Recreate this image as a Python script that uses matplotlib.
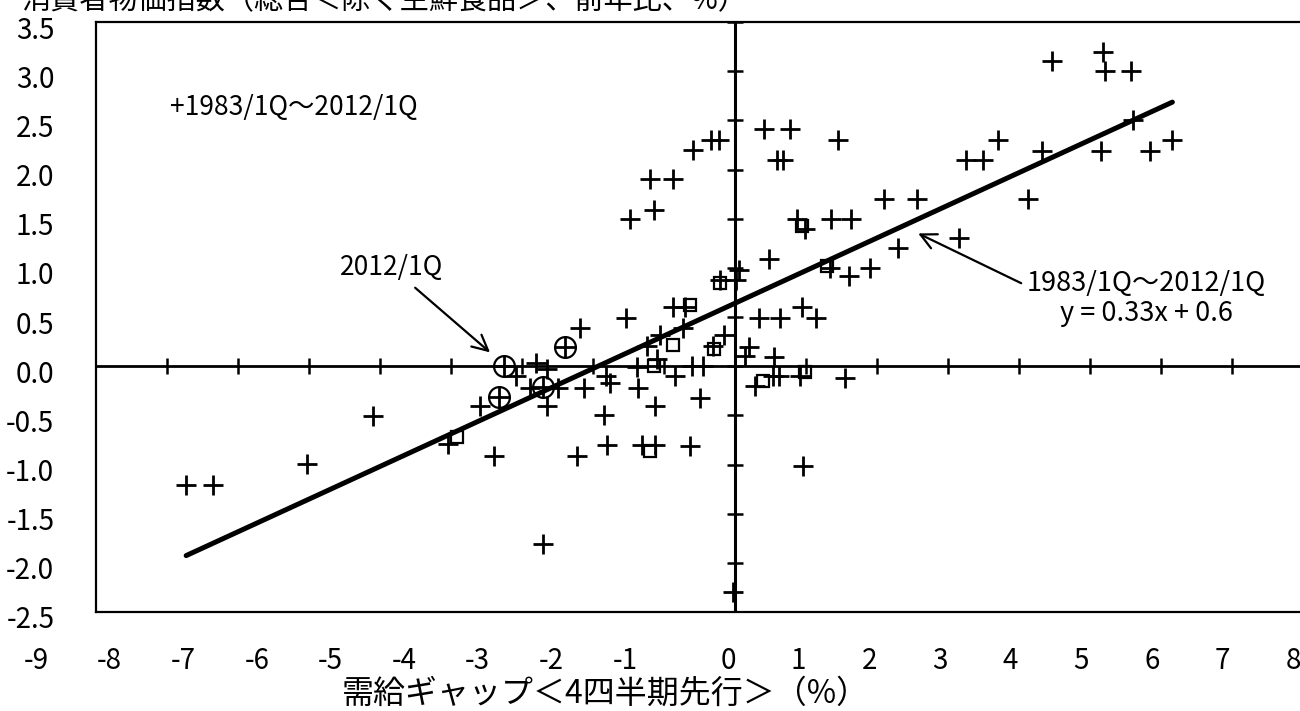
import numpy as np
import matplotlib
matplotlib.use('Agg')
import matplotlib.pyplot as plt
from matplotlib.transforms import ScaledTranslation

plt.rcParams['font.family'] = ['Noto Sans CJK JP', 'DejaVu Sans']

# 需給ギャップ(4四半期先行) と CPI前年比 の散布データ
gap_x = [4.47, 5.18, 5.21, 5.58, 5.60, 4.33, 5.16, 5.85, 6.16, 4.13, 3.25, 3.49, 3.70,
         2.10, 2.57, 3.16, 2.29,
         0.41, 0.78, 1.45, 0.59, 0.67, 0.87, 0.98, 1.35, 1.63, 0.48, 1.34, 1.60, 1.90,
         0.34, 0.63, 0.95, 1.14, 0.20, 0.14, 0.55, 0.53, 0.62, 0.28, 0.92, 1.55, 0.96,
         0.05, 0.02, -0.21,
         -1.48, -1.14, -1.20, -0.87, -0.59, -0.34, -0.22,
         -0.87, -0.70, -0.31, -0.16, -0.73, -1.06, -1.24, -1.10, -1.38, -0.85, -0.61,
         -0.45, -1.53, -2.18,
         -3.08, -2.80, -2.65, -2.89, -2.49, -2.13, -1.76, -1.81, -1.36, -3.59, -2.65,
         -1.13, -0.50, -1.85,
         -4.04, -3.40, -2.23, -1.80, -1.31, -1.13, -0.64, -2.70, -0.03, -6.03, -5.10,
         -7.73, -7.35,
         -3.26, -3.33, -2.39, -2.71]
cpi_y = [3.10, 3.20, 3.00, 3.00, 2.50, 2.19, 2.19, 2.19, 2.30, 1.70, 2.10, 2.10, 2.30,
         1.70, 1.70, 1.30, 1.20,
         2.41, 2.41, 2.30, 2.10, 2.10, 1.50, 1.40, 1.50, 1.50, 1.09, 1.00, 0.92, 1.00,
         0.49, 0.49, 0.60, 0.49, 0.19, 0.10, 0.09, -0.10, -0.10, -0.20, -0.10, -0.12, -1.02,
         0.98, 0.88, 0.88,
         1.50, 1.59, 1.90, 1.90, 2.20, 2.30, 2.30,
         0.60, 0.60, 0.21, 0.32, 0.39, 0.32, 0.21, 0.07, -0.01, -0.10, 0.00,
         0.00, 0.49, 0.39,
         -0.10, 0.03, -0.03, -0.22, -0.22, -0.22, -0.17, -0.10, -0.22, -0.40, -0.40,
         -0.40, -0.32, -0.50,
         -0.79, -0.91, -0.91, -0.80, -0.80, -0.80, -0.81, -1.81, -2.30, -0.99, -0.51,
         -1.21, -1.21,
         0.00, -0.31, 0.19, -0.21]

# 四角マーカーの点
sq_x = [-3.92, -1.14, -0.87, -0.63, -0.30, -1.20, -0.21, 0.95, 1.30, 0.40, 0.99]
sq_y = [-0.72, 0.00, 0.22, 0.62, 0.17, -0.86, 0.85, 1.43, 1.02, -0.15, -0.06]

# 丸マーカー (直近)
recent_x = [-3.26, -3.33, -2.39, -2.71]
recent_y = [0.00, -0.31, 0.19, -0.21]

# 近似直線 y = 0.33x + 0.6
slope = 0.332
intercept = 0.64

title = '消費者物価指数（総合＜除く生鮮食品＞、前年比、%）'
xlabel = '需給ギャップ＜4四半期先行＞（%）'
xticks_neg = [-9, -8, -7, -6, -5, -4, -3, -2, -1]
xticks_pos = [0, 1, 2, 3, 4, 5, 6, 7, 8]
yticks = np.arange(-2.5, 3.51, 0.5)

W, H = 1300, 711


def box(l, t, r, b):
    return [l / W, 1 - b / H, (r - l) / W, (b - t) / H]


fig = plt.figure(figsize=(13, 7.11), dpi=100)
ax = fig.add_axes(box(96, 22, 1303, 612))
ax.set_xlim(-9, 8)
ax.set_ylim(-2.5, 3.5)

for s in ax.spines.values():
    s.set_linewidth(1.6)
ax.set_xticks([])
ax.set_yticks(yticks)
ax.set_yticklabels([f'{v:.1f}' for v in yticks])
ax.tick_params(axis='y', length=0, pad=30, labelsize=20)
# 元の図ではラベルが少し下にずれている
shift = ScaledTranslation(0, -0.05, fig.dpi_scale_trans)
for t in ax.get_yticklabels():
    t.set_transform(t.get_transform() + shift)

# 原点を通る軸と目盛り
ax.axhline(0, color='black', lw=2.0, zorder=1)
ax.axvline(0, color='black', lw=2.2, zorder=1)
ax.plot(np.arange(-8, 8), np.zeros(16), ls='none', marker='|', ms=12, mew=1.8, color='black')
ax.plot(np.zeros(len(yticks)), yticks, ls='none', marker='_', ms=12, mew=1.8, color='black')

# 散布点
ax.plot(gap_x, cpi_y, ls='none', marker='+', ms=14, mew=2.0, color='black', zorder=3)
ax.plot(sq_x, sq_y, ls='none', marker='s', ms=9, mew=1.6, mfc='none', mec='black', zorder=3)
ax.plot(recent_x, recent_y, ls='none', marker='o', ms=15, mew=1.6, mfc='none', mec='black', zorder=3)

# 近似直線
xl = np.array([min(gap_x), max(gap_x)])
ax.plot(xl, slope * xl + intercept, color='black', lw=3.6, solid_capstyle='round', zorder=4)

ax.text(-7.96, 2.63, '+1983/1Q～2012/1Q', ha='left', va='center', fontsize=19)
ax.annotate('2012/1Q', xy=(-3.45, 0.14), xytext=(-4.83, 1.0), ha='center', va='center',
            fontsize=19,
            arrowprops=dict(arrowstyle='->', lw=1.6, color='black', mutation_scale=28,
                            shrinkA=4, shrinkB=0))
ax.annotate('1983/1Q～2012/1Q\ny = 0.33x + 0.6', xy=(2.58, 1.35), xytext=(5.79, 0.69),
            ha='center', va='center', multialignment='center', fontsize=19.5,
            linespacing=1.15,
            arrowprops=dict(arrowstyle='->', lw=1.6, color='black', mutation_scale=28,
                            shrinkA=2, shrinkB=0, relpos=(0, 0.72)))

# x軸の目盛りラベル (元の図のように枠とずれた位置)
for ticks, (l, r) in [(xticks_neg, (36, 625)), (xticks_pos, (728, 1293))]:
    lab = fig.add_axes(box(l, 645, r, 646))
    lab.set_xlim(ticks[0], ticks[-1])
    lab.set_xticks(ticks)
    lab.set_xticklabels([str(t) for t in ticks])
    lab.set_yticks([])
    lab.patch.set_visible(False)
    for s in lab.spines.values():
        s.set_visible(False)
    lab.tick_params(axis='x', length=0, pad=0, labelsize=20)

fig.text(605 / W, 1 - 694 / H, xlabel, ha='center', va='center', fontsize=23)
fig.text(22 / W, 1 - 1 / H, title, ha='left', va='center', fontsize=21)

fig.savefig('out.png', dpi=100)
